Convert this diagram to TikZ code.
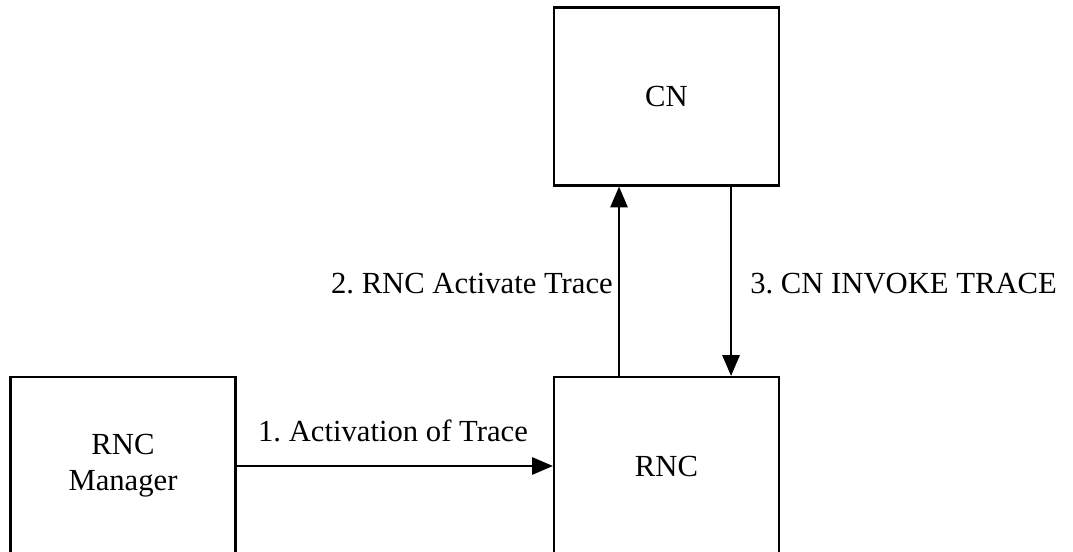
\documentclass[tikz,border=0pt]{standalone}
\usepackage{fontspec}
\setmainfont{Liberation Serif}
\usetikzlibrary{arrows.meta}
\frenchspacing

\begin{document}
\begin{tikzpicture}[x=0.75pt,y=-0.75pt,
		font=\fontsize{23}{27}\selectfont,
		box/.style={draw,line width=1.7pt,minimum width=168.75pt,minimum height=133.5pt,
			inner sep=0pt,align=center},
		msg/.style={-{Triangle[length=15.5pt,width=13pt]},line width=1.1pt},
		lbl/.style={inner sep=0pt}]
	
	\useasboundingbox (0,0) rectangle (1073,552);
	\clip (0,0) rectangle (1073,552);
	
	% ============ Knoten ============
	\node[box] (cn) at (666.5,96.5) {CN};
	\node[box] (rnc) at (666.5,466) {RNC};
	\node[box] (mgr) at (123,466) {RNC\\Manager};
	
	% ============ Nachrichten ============
	\draw[msg] (mgr) -- (rnc);
	\node[lbl,anchor=base] (l1) at (393,441) {1. Activation of Trace};
	
	\draw[msg] ([xshift=-35.6pt]rnc.north) -- ([xshift=-35.6pt]cn.south);
	\node[lbl,anchor=base east] (l2) at (613,293) {2. RNC Activate Trace};
	
	\draw[msg] ([xshift=48.4pt]cn.south) -- ([xshift=48.4pt]rnc.north);
	\node[lbl,anchor=base west] (l3) at (750,293) {3. CN INVOKE TRACE};
	
\end{tikzpicture}
\end{document}
